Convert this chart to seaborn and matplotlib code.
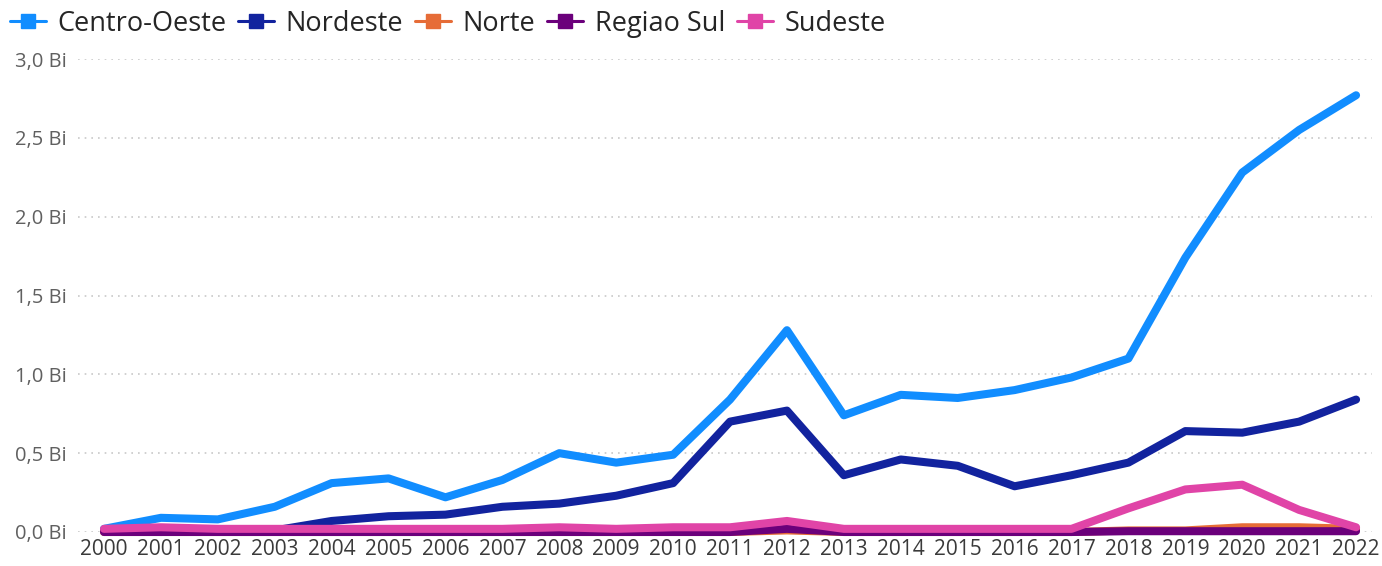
import matplotlib
matplotlib.use("Agg")
import matplotlib.pyplot as plt
from matplotlib.lines import Line2D
import seaborn as sns
import pandas as pd

# Data (values in billions)
anos = list(range(2000, 2023))
centro_oeste = [0.02, 0.09, 0.08, 0.16, 0.31, 0.34, 0.22, 0.33, 0.50, 0.44, 0.49, 0.84,
                1.28, 0.74, 0.87, 0.85, 0.90, 0.98, 1.10, 1.74, 2.28, 2.55, 2.77]
nordeste = [0.01, 0.00, 0.01, 0.01, 0.07, 0.10, 0.11, 0.16, 0.18, 0.23, 0.31, 0.70,
            0.77, 0.36, 0.46, 0.42, 0.29, 0.36, 0.44, 0.64, 0.63, 0.70, 0.84]
norte = [0.00, 0.00, 0.00, 0.00, 0.00, 0.00, 0.00, 0.00, 0.00, 0.00, 0.00, 0.00,
         0.01, 0.00, 0.00, 0.00, 0.00, 0.00, 0.01, 0.01, 0.03, 0.03, 0.02]
regiao_sul = [0.00, 0.00, 0.00, 0.00, 0.00, 0.00, 0.00, 0.00, 0.00, 0.00, 0.00, 0.00,
              0.02, 0.00, 0.00, 0.00, 0.00, 0.00, 0.005, 0.005, 0.005, 0.005, 0.005]
sudeste = [0.02, 0.03, 0.02, 0.02, 0.02, 0.02, 0.02, 0.02, 0.03, 0.02, 0.03, 0.03,
           0.07, 0.02, 0.02, 0.02, 0.02, 0.02, 0.15, 0.27, 0.30, 0.14, 0.03]

regioes = ["Centro-Oeste", "Nordeste", "Norte", "Regiao Sul", "Sudeste"]
cores = ["#118DFF", "#12239E", "#E66C37", "#6B007B", "#E044A7"]
y_ticks = [0.0, 0.5, 1.0, 1.5, 2.0, 2.5, 3.0]

series = [centro_oeste, nordeste, norte, regiao_sul, sudeste]
df = pd.concat([pd.DataFrame({"Ano": anos, "Valor": v, "Regiao": r})
                for r, v in zip(regioes, series)], ignore_index=True)

sns.set_theme(style="white")
plt.rcParams["font.family"] = ["Open Sans", "DejaVu Sans"]

fig = plt.figure(figsize=(13.82, 5.66), dpi=100)
ax = fig.add_axes([78 / 1382, 34 / 566, 1294 / 1382, 473 / 566])

sns.lineplot(data=df, x="Ano", y="Valor", hue="Regiao", hue_order=regioes,
             palette=dict(zip(regioes, cores)), linewidth=5.8, legend=False,
             ax=ax, solid_capstyle="round", solid_joinstyle="round")
for ln in ax.lines:
    ln.set_clip_on(False)

ax.set_xlim(2000 - 0.457, 2022 + 0.28)
ax.set_ylim(0, 3.0)
ax.set_xticks(anos)
ax.set_xticklabels([str(a) for a in anos], fontsize=15, color="#3a3a3a")
ax.set_yticks(y_ticks)
ax.set_yticklabels([f"{t:.1f} Bi".replace(".", ",") for t in y_ticks],
                   fontsize=14.5, color="#606060")
ax.tick_params(axis="both", length=0)
ax.tick_params(axis="x", pad=5)
ax.tick_params(axis="y", pad=8)
ax.set_xlabel("")
ax.set_ylabel("")
for s in ax.spines.values():
    s.set_visible(False)
ax.yaxis.grid(True, linestyle=(0, (1, 3)), color="#c8c8c8", linewidth=1.2)
ax.set_axisbelow(True)

handles = [Line2D([0], [0], color=c, linewidth=2.2, marker="s", markersize=9.5)
           for c in cores]
fig.legend(handles, regioes, loc="upper left", bbox_to_anchor=(0.004, 0.99),
           ncol=5, frameon=False, fontsize=19.5, handlelength=1.33,
           handletextpad=0.43, columnspacing=0.43, borderaxespad=0.0,
           borderpad=0.15, labelcolor="#252525")

fig.savefig("out.png", dpi=100, facecolor="white")
